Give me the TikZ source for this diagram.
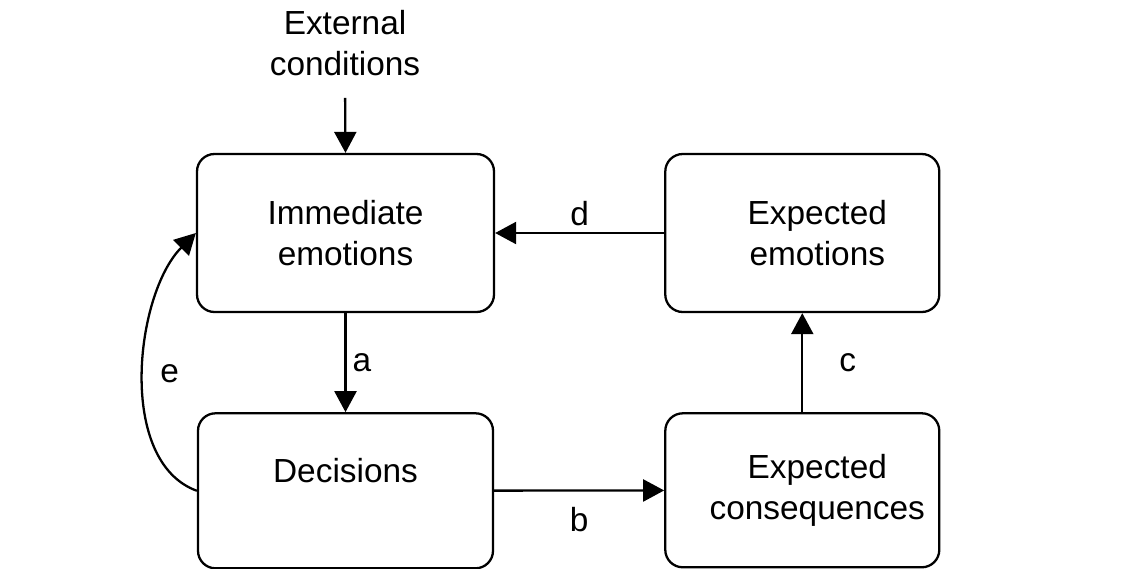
\documentclass[tikz,border=0pt]{standalone}
\usepackage{fontspec}
\setmainfont{Liberation Sans}
\usetikzlibrary{
        arrows.meta,
        positioning
    }
\tikzset{>={Triangle[length=0.42cm,width=0.44cm]},node distance=2cm}
\tikzset{emofont/.style={font=\fontsize{19}{23.5}\selectfont}}
\tikzset{emobox/.style={draw,emofont,rounded corners=0.35cm,line width=1.3pt,align=center,minimum height=3.16cm}}

\begin{document}
\begin{tikzpicture}[line width=1.3pt]
                    \useasboundingbox (0,0) rectangle (22.9,-11.36);
                    \node[emobox,minimum width=5.94cm] (imm) at (6.91,-4.66) {Immediate\\emotions};
                    \node[emobox,minimum width=5.9cm,minimum height=3.1cm] (dec) [below=1.98cm of imm] {Decisions\\\mbox{}};
                    \node[emobox,minimum width=5.48cm] (expemo) [right=3.38cm of imm] {\hspace{0.6cm}Expected\\\hspace{0.6cm}emotions};
                    \node[emobox,minimum width=5.48cm,minimum height=3.08cm] (expcon) [below=1.98cm of expemo] {\hspace{0.6cm}Expected\\\hspace{0.6cm}consequences};
                    \node[emofont,align=center] (ext) at (6.9,-0.86) {External\\conditions};
                    \path[->,emofont,line width=1.3pt]
                        (ext.south) edge[shorten <=0.3cm] (imm.north)
                        (imm) edge node[right] {a} (dec)
                        (dec) edge node[below,yshift=-0.2cm] {b} (expcon)
                        (expcon) edge node[right=0.6cm] {c} (expemo)
                        (expemo) edge node[above] {d} (imm)
                        (dec.west) edge[out=160,in=225,looseness=0.85] node[pos=0.5,right=0.2cm] {e} (imm.west)
                    ;
                \end{tikzpicture}
\end{document}
